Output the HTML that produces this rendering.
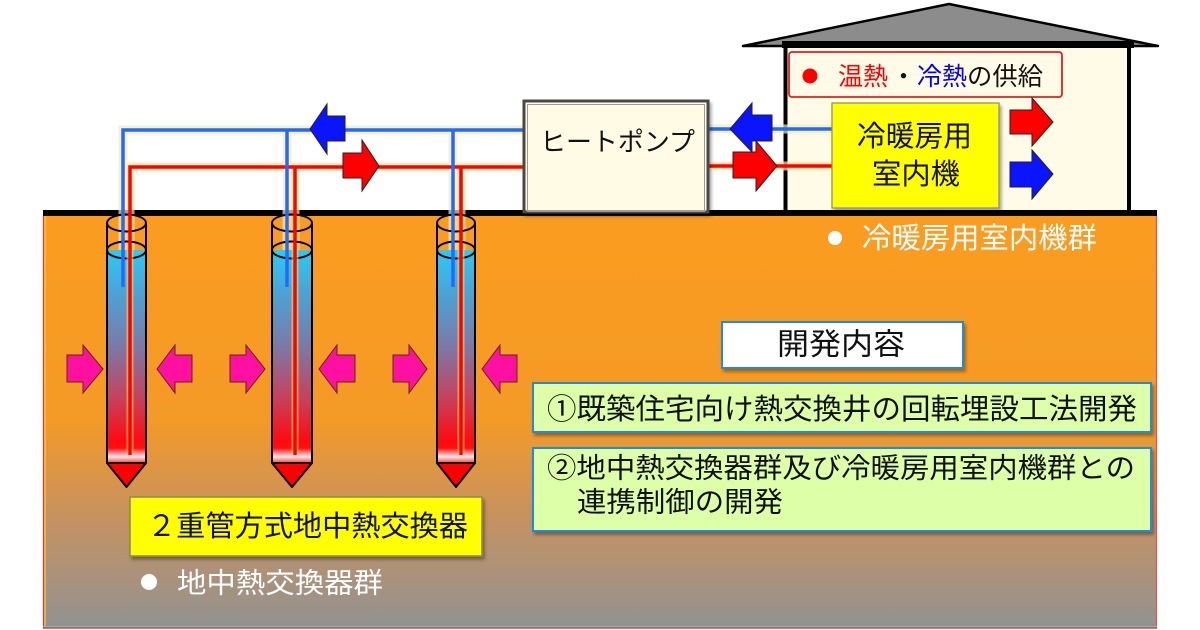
<!DOCTYPE html>
<html><head><meta charset="utf-8">
<style>
html,body{margin:0;padding:0;background:#fff;}
svg{display:block;}
text{font-family:"Liberation Sans","Noto Sans CJK JP",sans-serif;}
</style></head>
<body>
<svg width="1200" height="630" viewBox="0 0 1200 630" xmlns="http://www.w3.org/2000/svg">
<defs>
<linearGradient id="soil" x1="0" y1="212" x2="0" y2="628" gradientUnits="userSpaceOnUse">
<stop offset="0" stop-color="#fb9c1f"/>
<stop offset="0.5" stop-color="#f49a26"/>
<stop offset="0.72" stop-color="#c9925e"/>
<stop offset="1" stop-color="#929292"/>
</linearGradient>
<linearGradient id="col" x1="0" y1="250" x2="0" y2="463" gradientUnits="userSpaceOnUse">
<stop offset="0" stop-color="#2ccaf2"/>
<stop offset="0.2" stop-color="#4aa4d6"/>
<stop offset="0.45" stop-color="#7a7aa8"/>
<stop offset="0.7" stop-color="#c8405a"/>
<stop offset="0.9" stop-color="#ff0a10"/>
<stop offset="0.93" stop-color="#ff1010"/>
<stop offset="0.97" stop-color="#ffe8e8"/>
<stop offset="1" stop-color="#ff4040"/>
</linearGradient>
<filter id="sh" x="-10%" y="-10%" width="130%" height="140%">
<feDropShadow dx="2" dy="3" stdDeviation="1.5" flood-color="#000" flood-opacity="0.35"/>
</filter>
</defs>

<!-- soil -->
<rect x="43" y="212" width="1114" height="416" fill="url(#soil)"/>
<line x1="43.5" y1="214" x2="43.5" y2="628" stroke="#e83030" stroke-width="1.2"/>
<line x1="45" y1="214" x2="45" y2="626" stroke="#ffd040" stroke-width="1.2"/>
<line x1="1156.5" y1="214" x2="1156.5" y2="628" stroke="#e85050" stroke-width="1.2"/>
<line x1="43" y1="626.5" x2="1157" y2="626.5" stroke="#60c8d0" stroke-width="1"/>
<line x1="43" y1="628" x2="1157" y2="628" stroke="#e04040" stroke-width="1.5"/>

<!-- house -->
<polygon points="743,46 949,4 1158,46" fill="#8c8c8c" stroke="#000" stroke-width="2.5" stroke-linejoin="round"/>
<rect x="785.5" y="46" width="343.5" height="166" fill="#fffbe6" stroke="#000" stroke-width="4"/>
<rect x="782" y="41" width="352" height="7" fill="#000"/>
<rect x="789" y="52" width="273" height="45" rx="3" fill="#fffbe6" stroke="#e02020" stroke-width="1.8"/>
<circle cx="810" cy="76" r="7.5" fill="#ff0000"/>
<text x="838" y="77" font-size="25" fill="#ff0000" dominant-baseline="central" textLength="50" lengthAdjust="spacingAndGlyphs">温熱</text>
<text x="891" y="77" font-size="25" fill="#111" dominant-baseline="central">・</text>
<text x="917" y="77" font-size="25" fill="#0000ff" dominant-baseline="central" textLength="50" lengthAdjust="spacingAndGlyphs">冷熱</text>
<text x="967" y="77" font-size="25" fill="#111" dominant-baseline="central" textLength="76" lengthAdjust="spacingAndGlyphs">の供給</text>

<!-- ground line -->
<rect x="43" y="210" width="1114" height="6" fill="#000"/>

<!-- pipes halo -->
<g stroke="#ffe9a0" stroke-width="9" fill="none" opacity="0.7">
<polyline points="123,250 123,130 524,130"/>
<polyline points="130,250 130,167 524,167"/>
<line x1="287" y1="130" x2="287" y2="250"/>
<line x1="295" y1="167" x2="295" y2="250"/>
<line x1="453" y1="130" x2="453" y2="250"/>
<line x1="461" y1="167" x2="461" y2="250"/>
<line x1="708" y1="129" x2="832" y2="129"/>
<line x1="708" y1="166" x2="832" y2="166"/>
</g>

<!-- wells -->
<g id="wells">
<!-- well 1 -->
<rect x="107" y="250" width="39" height="213" fill="url(#col)"/>
<polygon points="107,463 146,463 126.5,487" fill="#ff0000" stroke="#000" stroke-width="2" stroke-linejoin="round"/>
<line x1="107" y1="223" x2="107" y2="463" stroke="#000" stroke-width="2"/>
<line x1="146" y1="223" x2="146" y2="463" stroke="#000" stroke-width="2"/>
<ellipse cx="126.5" cy="223" rx="19.5" ry="8.5" fill="none" stroke="#000" stroke-width="2"/>
<ellipse cx="126.5" cy="250" rx="19.5" ry="8.5" fill="none" stroke="#000" stroke-width="2"/>
<!-- well 2 -->
<rect x="272" y="250" width="40" height="213" fill="url(#col)"/>
<polygon points="272,463 312,463 292,487" fill="#ff0000" stroke="#000" stroke-width="2" stroke-linejoin="round"/>
<line x1="272" y1="223" x2="272" y2="463" stroke="#000" stroke-width="2"/>
<line x1="312" y1="223" x2="312" y2="463" stroke="#000" stroke-width="2"/>
<ellipse cx="292" cy="223" rx="20" ry="8.5" fill="none" stroke="#000" stroke-width="2"/>
<ellipse cx="292" cy="250" rx="20" ry="8.5" fill="none" stroke="#000" stroke-width="2"/>
<!-- well 3 -->
<rect x="437" y="250" width="38" height="213" fill="url(#col)"/>
<polygon points="437,463 475,463 456,487" fill="#ff0000" stroke="#000" stroke-width="2" stroke-linejoin="round"/>
<line x1="437" y1="223" x2="437" y2="463" stroke="#000" stroke-width="2"/>
<line x1="475" y1="223" x2="475" y2="463" stroke="#000" stroke-width="2"/>
<ellipse cx="456" cy="223" rx="19" ry="8.5" fill="none" stroke="#000" stroke-width="2"/>
<ellipse cx="456" cy="250" rx="19" ry="8.5" fill="none" stroke="#000" stroke-width="2"/>
</g>

<!-- inner pipe glow inside wells -->
<g stroke="#e8e060" stroke-width="7" fill="none" opacity="0.6">
<line x1="130" y1="250" x2="130" y2="455"/>
<line x1="295" y1="250" x2="295" y2="455"/>
<line x1="461" y1="250" x2="461" y2="455"/>
</g>

<!-- pipes -->
<g fill="none" stroke-width="3.5">
<polyline points="123,287 123,130 524,130" stroke="#1e6cff"/>
<polyline points="130,455 130,167 524,167" stroke="#ff0000"/>
<line x1="287" y1="130" x2="287" y2="287" stroke="#1e6cff"/>
<line x1="295" y1="167" x2="295" y2="455" stroke="#ff0000"/>
<line x1="453" y1="130" x2="453" y2="287" stroke="#1e6cff"/>
<line x1="461" y1="167" x2="461" y2="455" stroke="#ff0000"/>
<line x1="708" y1="129" x2="832" y2="129" stroke="#1e6cff"/>
<line x1="708" y1="166" x2="832" y2="166" stroke="#ff0000"/>
</g>

<!-- heat pump -->
<rect x="524" y="101" width="184" height="111" fill="#fffbe4" stroke="#4a4a4a" stroke-width="3" filter="url(#sh)"/>
<rect x="527.5" y="104.5" width="177" height="107" fill="none" stroke="#9a9a9a" stroke-width="1"/>
<text x="540" y="142" font-size="26" fill="#111" dominant-baseline="central" textLength="155" lengthAdjust="spacingAndGlyphs">ヒートポンプ</text>

<!-- indoor unit -->
<rect x="832" y="103" width="167" height="105" fill="#ffff00" stroke="#8a8a60" stroke-width="1.2" filter="url(#sh)"/>
<text x="857" y="137" font-size="29" fill="#111" dominant-baseline="central" textLength="115" lengthAdjust="spacingAndGlyphs">冷暖房用</text>
<text x="872" y="175" font-size="29" fill="#111" dominant-baseline="central" textLength="88" lengthAdjust="spacingAndGlyphs">室内機</text>

<!-- flow arrows -->
<g stroke="#222" stroke-width="1" stroke-linejoin="miter">
<polygon points="310,129 327,104 327,116 345,116 345,141 327,141 327,154" fill="#0a14ff"/>
<polygon points="343,153 362,153 362,140 379,166 362,191 362,178 343,178" fill="#ff0000"/>
<polygon points="730,129 752,103 752,115 772,115 772,141 752,141 752,152" fill="#0a14ff"/>
<polygon points="733,152 756,152 756,141 777,166 756,191 756,178 733,178" fill="#ff0000"/>
<polygon points="1010,110 1032,110 1032,98 1053,122 1032,146 1032,134 1010,134" fill="#ff0000"/>
<polygon points="1010,162 1032,162 1032,150 1053,174 1032,199 1032,187 1010,187" fill="#0a14ff"/>
</g>

<!-- magenta arrows -->
<g fill="#ff10a0" stroke="#5a2a10" stroke-width="1">
<polygon points="67,355 83,355 83,345 103,369 83,393 83,382 67,382"/>
<polygon points="230,355 246,355 246,345 265,369 246,393 246,382 230,382"/>
<polygon points="393,355 409,355 409,345 427,369 409,393 409,382 393,382"/>
<polygon points="157,369 175,345 175,355 192,355 192,382 175,382 175,393"/>
<polygon points="319,369 337,345 337,355 355,355 355,382 337,382 337,393"/>
<polygon points="482,369 500,345 500,355 517,355 517,382 500,382 500,393"/>
</g>

<!-- labels white -->
<circle cx="835" cy="238" r="7" fill="#fff"/>
<text x="862" y="239" font-size="29" fill="#fff" dominant-baseline="central" textLength="235" lengthAdjust="spacingAndGlyphs">冷暖房用室内機群</text>

<rect x="130" y="497" width="352" height="59" fill="#ffff00" stroke="#8a8a50" stroke-width="1.5" filter="url(#sh)"/>
<text x="147" y="527" font-size="29" fill="#111" dominant-baseline="central" textLength="321" lengthAdjust="spacingAndGlyphs">２重管方式地中熱交換器</text>

<circle cx="149" cy="582" r="8" fill="#fff"/>
<text x="177" y="583" font-size="28" fill="#fff" dominant-baseline="central" textLength="206" lengthAdjust="spacingAndGlyphs">地中熱交換器群</text>

<!-- development boxes -->
<rect x="722" y="322" width="241" height="46" fill="#ffffff" stroke="#1a8ce0" stroke-width="2" filter="url(#sh)"/>
<text x="777" y="345" font-size="30" fill="#111" dominant-baseline="central" textLength="128" lengthAdjust="spacingAndGlyphs">開発内容</text>

<rect x="533" y="383" width="618" height="49" fill="#dcffa8" stroke="#1a8ce0" stroke-width="2" filter="url(#sh)"/>
<text x="547" y="410" font-size="29" fill="#111" dominant-baseline="central" textLength="590" lengthAdjust="spacingAndGlyphs">①既築住宅向け熱交換井の回転埋設工法開発</text>

<rect x="533" y="448" width="618" height="83" fill="#dcffa8" stroke="#1a8ce0" stroke-width="2" filter="url(#sh)"/>
<text x="547" y="468" font-size="28" fill="#111" dominant-baseline="central" textLength="588" lengthAdjust="spacingAndGlyphs">②地中熱交換器群及び冷暖房用室内機群との</text>
<text x="577" y="502" font-size="28" fill="#111" dominant-baseline="central" textLength="206" lengthAdjust="spacingAndGlyphs">連携制御の開発</text>
</svg>
</body></html>
